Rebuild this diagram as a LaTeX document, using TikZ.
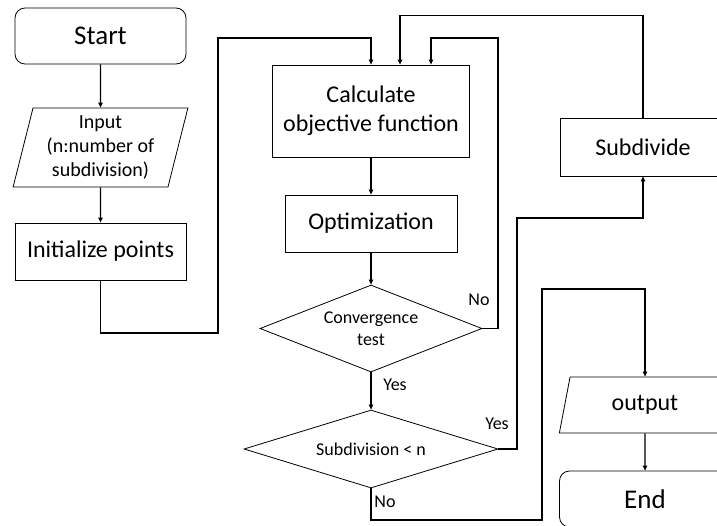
\documentclass[tikz,border=0pt]{standalone}
\usepackage{fontspec}
\setmainfont{Carlito}
\usetikzlibrary{shapes.geometric}
\usetikzlibrary{positioning}
\usetikzlibrary{arrows.meta}

\begin{document}
\begin{tikzpicture}[x=1pt, y=-1pt]
\tikzstyle{flow-edge}=[line width=1.1pt, -{Triangle[length=5pt, width=4.5pt]}]
\tikzstyle{plain-edge}=[line width=1.1pt]
\tikzstyle{terminal}=[rectangle, rounded corners=10pt, draw, line width=0.8pt, minimum width=171pt, minimum height=56pt, font=\fontsize{27}{32}\selectfont]
\tikzstyle{process}=[rectangle, draw, line width=0.8pt, inner sep=2pt, font=\fontsize{24}{29}\selectfont]
\tikzstyle{io}=[trapezium, trapezium stretches=true, trapezium left angle=76, trapezium right angle=104, draw, line width=0.8pt, inner sep=0pt]
\tikzstyle{decision}=[diamond, aspect=2.5, draw, line width=0.8pt, inner sep=0pt, font=\fontsize{18}{22}\selectfont]
\tikzstyle{edge-label}=[inner sep=0pt, font=\fontsize{18}{22}\selectfont]

\useasboundingbox (0,0) rectangle (717,525);
\clip (0,0) rectangle (717,525);

% left column
\node[terminal] (Pstart) at (100.5,36) {Start};
\node[io, minimum width=175pt, minimum height=79pt, align=center, font=\fontsize{20}{24}\selectfont] (Pinput) at (100.5,147.5) {Input\\(n:number of\\subdivision)};
\node[process, minimum width=171pt, minimum height=57pt] (Pinit) at (100.5,251.5) {Initialize points};

% middle column
\node[process, minimum width=197pt, minimum height=92pt, align=center] (Pcalc) at (371,111) {Calculate\\objective function};
\node[process, minimum width=172pt, minimum height=57pt] (Popt) at (371,223.5) {Optimization};
\node[decision, minimum width=222pt, minimum height=87pt, align=center] (Pconv) at (371,328.5) {Convergence\\test};
\node[decision, minimum width=254pt, minimum height=78pt] (Psubn) at (371,449) {Subdivision < n};

% right column
\node[process, minimum width=166pt, minimum height=58pt] (Psubdiv) at (643,147) {Subdivide};
\node[io, minimum width=172pt, minimum height=56pt, font=\fontsize{24}{29}\selectfont] (Poutput) at (645,405) {output};
\node[terminal] (Pend) at (645,499) {End};

\draw[style=flow-edge] (Pstart) -- (Pinput);
\draw[style=flow-edge] (Pinput) -- (Pinit);
\draw[style=flow-edge] (Pinit.south) -- (100.5,333) -- (218,333) -- (218,38) -| (Pcalc.north);
\draw[style=flow-edge] (Pcalc) -- (Popt);
\draw[style=flow-edge] (Popt) -- (Pconv);
\draw[style=flow-edge] (Pconv) -- (Psubn);
\draw[style=flow-edge] (Pconv.east) -| (498,38) -| ([xshift=60pt]Pcalc.north);
\draw[style=flow-edge] (Psubdiv.north) -- ++(0,-102) -| ([xshift=29pt]Pcalc.north);
\draw[style=flow-edge] (Psubn.east) -| (517,218) -| (Psubdiv.south);
\draw[style=flow-edge] (Psubn.south) |- (542,520) -- (542,289) -| (Poutput.north);
\draw[style=flow-edge] (Poutput) -- (Pend);

\node[edge-label] (Lconvno) at (479,300) {No};
\node[edge-label] (Lconvyes) at (395,385) {Yes};
\node[edge-label] (Lsubnyes) at (497,424) {Yes};
\node[edge-label] (Lsubnno) at (385,502) {No};

\end{tikzpicture}
\end{document}
